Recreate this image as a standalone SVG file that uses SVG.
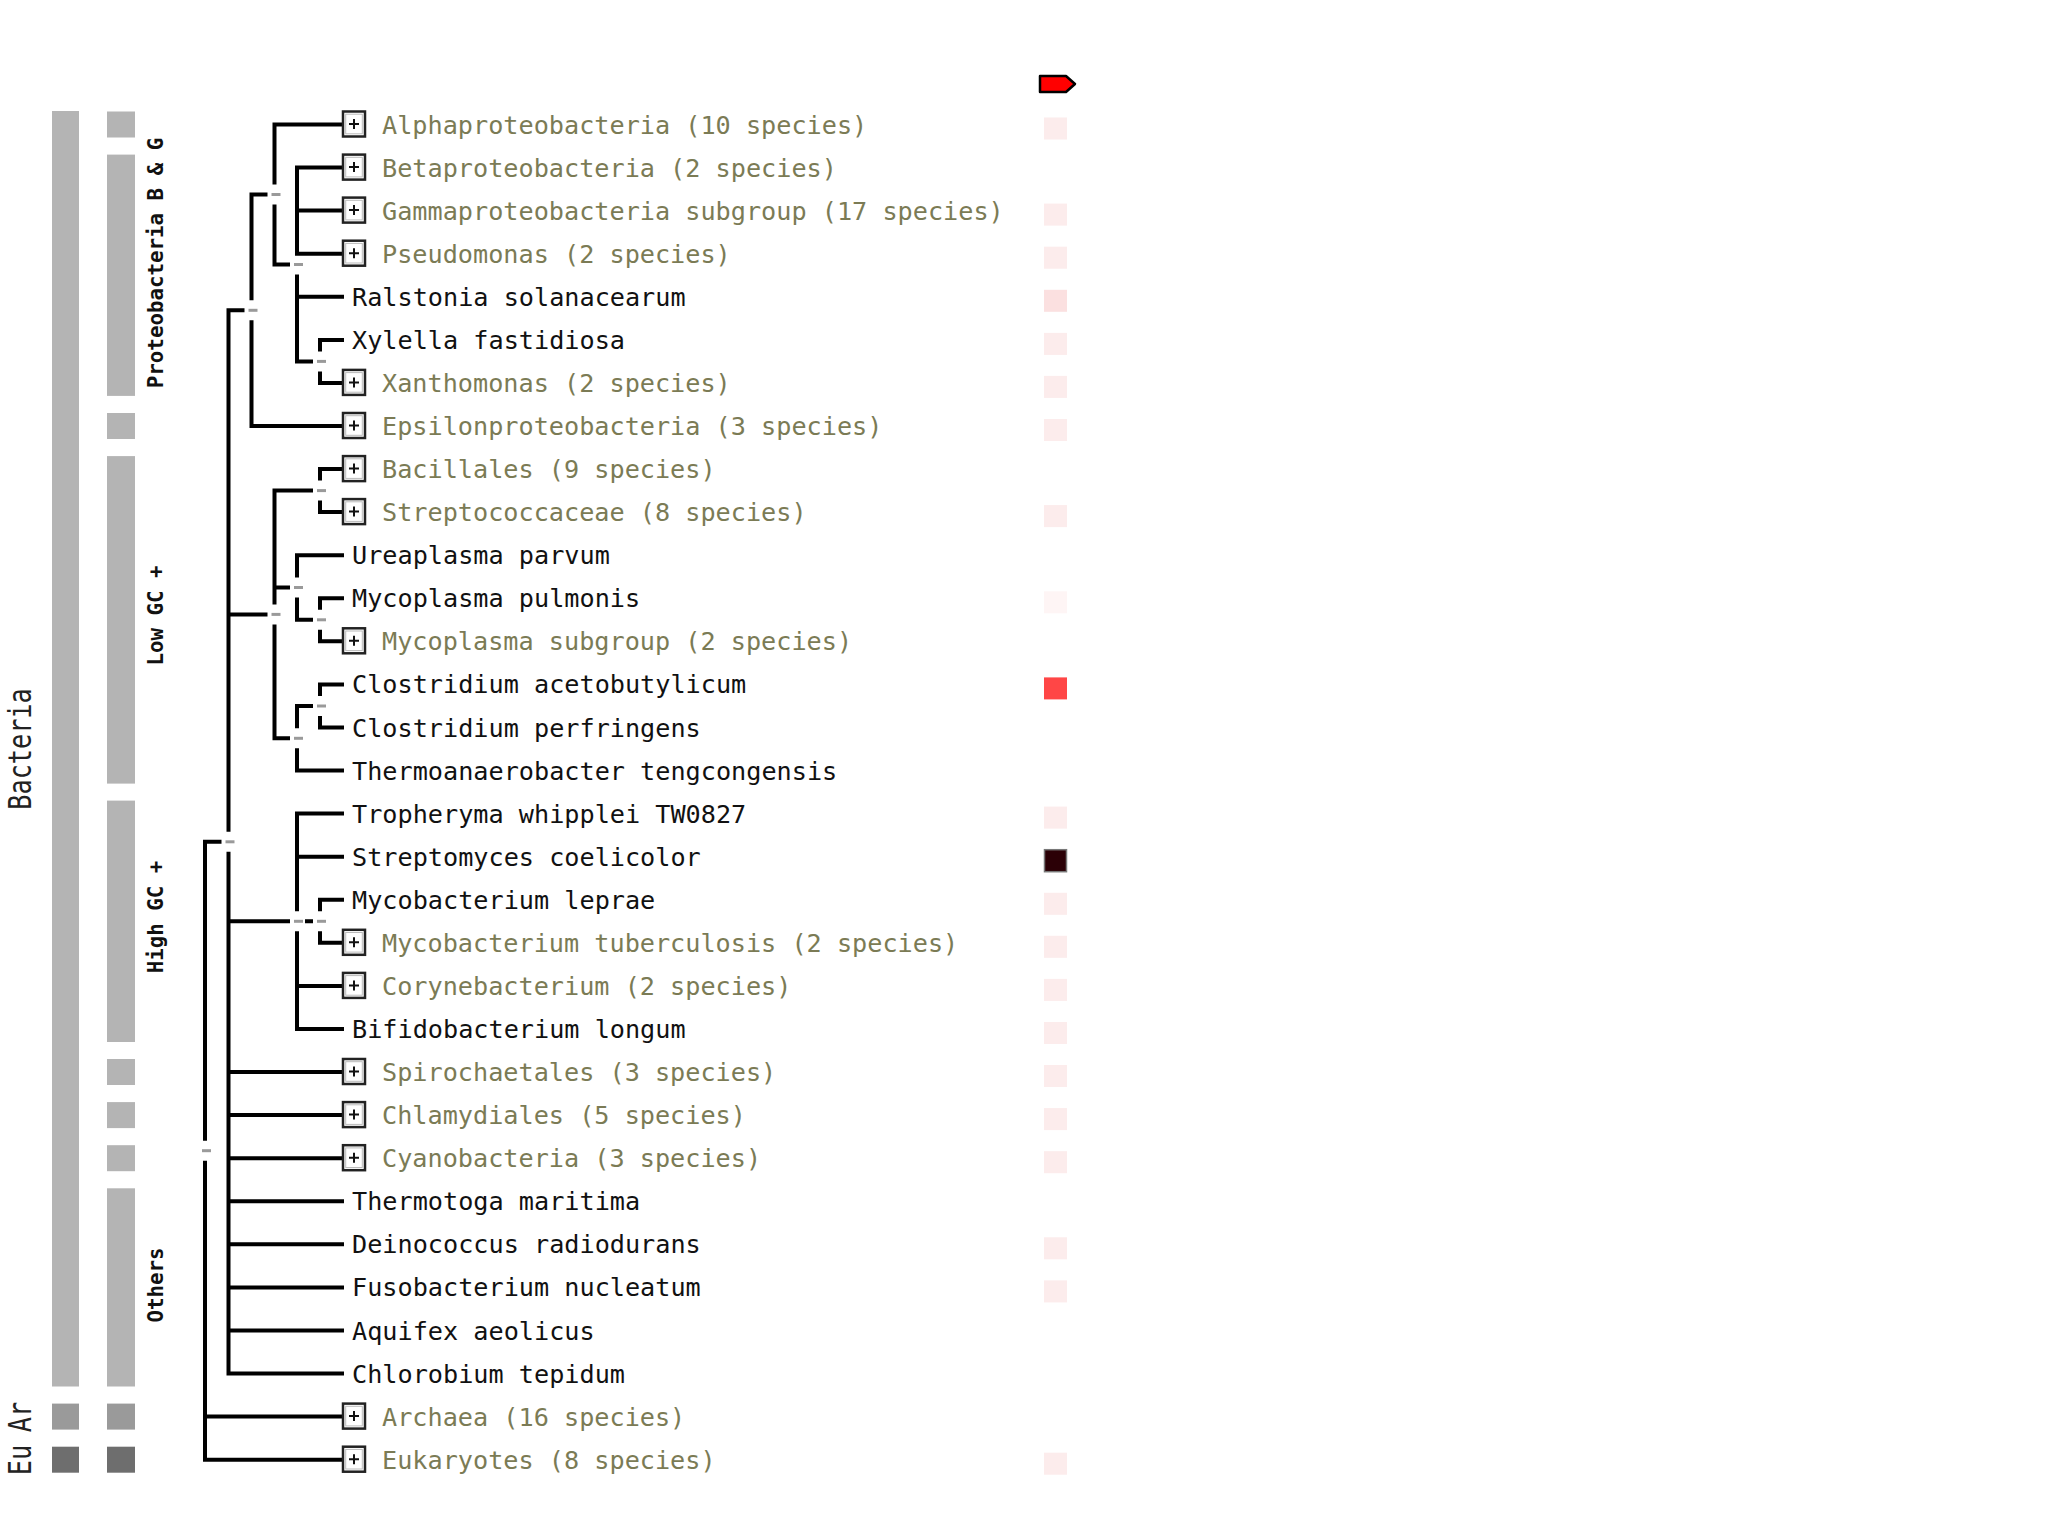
<svg xmlns="http://www.w3.org/2000/svg" width="2048" height="1536" viewBox="0 0 2048 1536">
<style>
.t{font-family:"DejaVu Sans Mono","Liberation Mono",monospace;font-size:25.2px}
.g{fill:#7b7b55}
.k{fill:#111}
.rl{font-family:"DejaVu Sans Mono","Liberation Mono",monospace;font-weight:bold;font-size:20.8px;text-anchor:middle;fill:#111}
.big{font-family:"DejaVu Sans Mono","Liberation Mono",monospace;font-size:25.2px;text-anchor:middle;fill:#222}
.bar{fill:#b4b4b4}
.ar{fill:#9a9a9a}
.eu{fill:#6e6e6e}
.conn{fill:none;stroke:#000;stroke-width:4;stroke-linecap:square}
.mk{fill:none;stroke:#9a9a9a;stroke-width:3}
.hs{fill:#fcecec}
</style>
<defs>
<g id="pbox">
<rect x="0.5" y="0.5" width="22" height="25" fill="#fff" stroke="#222" stroke-width="2.5"/>
<rect x="3.2" y="3.2" width="16.6" height="19.6" fill="none" stroke="#bbb" stroke-width="1"/>
<path d="M6.5 13H16.5M11.5 8V18" stroke="#111" stroke-width="2" fill="none"/>
</g>
</defs>
<rect width="2048" height="1536" fill="#fff"/>

<g id="taxonomy-bars">
<rect class="bar" x="52" y="111" width="27" height="1275.5"/>
<rect class="ar" x="52" y="1403.6" width="27" height="26"/>
<rect class="eu" x="52" y="1446.7" width="27" height="26"/>
<rect class="bar" x="107" y="111.5" width="28" height="26"/>
<rect class="bar" x="107" y="154.6" width="28" height="241.3"/>
<rect class="bar" x="107" y="413" width="28" height="26"/>
<rect class="bar" x="107" y="456.1" width="28" height="327.5"/>
<rect class="bar" x="107" y="800.6" width="28" height="241.4"/>
<rect class="bar" x="107" y="1059" width="28" height="26"/>
<rect class="bar" x="107" y="1102.1" width="28" height="26"/>
<rect class="bar" x="107" y="1145.2" width="28" height="26"/>
<rect class="bar" x="107" y="1188.3" width="28" height="198.2"/>
<rect class="ar" x="107" y="1403.6" width="28" height="26"/>
<rect class="eu" x="107" y="1446.7" width="28" height="26"/>
<text class="rl" transform="translate(163,263) rotate(-90)">Proteobacteria B &amp; G</text>
<text class="rl" transform="translate(163,615.5) rotate(-90)">Low GC +</text>
<text class="rl" transform="translate(163,917) rotate(-90)">High GC +</text>
<text class="rl" transform="translate(163,1285) rotate(-90)">Others</text>
<text class="big" transform="translate(31,749) rotate(-90) scale(1,1.25)">Bacteria</text>
<text class="big" transform="translate(31,1417) rotate(-90) scale(1,1.25)">Ar</text>
<text class="big" transform="translate(31,1460) rotate(-90) scale(1,1.25)">Eu</text>
</g>

<g id="connectors">
<path class="conn" d="M274.5 124.5V182.5M274.5 206.5V264.5M274.5 124.5H342M274.5 264.5H288"/>
<path class="conn" d="M297 167.6V252.5M297 276.5V361.4M297 167.6H342M297 210.6H342M297 253.7H342M297 296.8H342M297 361.4H311"/>
<path class="conn" d="M320 339.9V349.4M320 373.4V382.9M320 339.9H342M320 382.9H342"/>
<path class="conn" d="M251.5 194.5V298.3M251.5 322.3V426M251.5 194.5H265.5M251.5 426H342"/>
<path class="conn" d="M228.5 310.3V829.8M228.5 853.8V1373.5M228.5 310.3H242.5M228.5 614.4H265.5M228.5 921.3H288M228.5 1072H342M228.5 1115.1H342M228.5 1158.2H342M228.5 1201.3H342M228.5 1244.3H342M228.5 1287.4H342M228.5 1330.5H342M228.5 1373.5H342"/>
<path class="conn" d="M205 841.8V1138.7M205 1162.7V1459.7M205 841.8H219.5M205 1416.6H342M205 1459.7H342"/>
<path class="conn" d="M274.5 490.6V602.4M274.5 626.4V738.3M274.5 490.6H311M274.5 587.5H288M274.5 738.3H288"/>
<path class="conn" d="M320 469.1V478.6M320 502.6V512.1M320 469.1H342M320 512.1H342"/>
<path class="conn" d="M297 555.2V575.5M297 599.5V619.8M297 555.2H342M297 619.8H311"/>
<path class="conn" d="M320 598.3V607.8M320 631.8V641.3M320 598.3H342M320 641.3H342"/>
<path class="conn" d="M297 706V726.3M297 750.3V770.6M297 706H311M297 770.6H342"/>
<path class="conn" d="M320 684.4V694M320 718V727.5M320 684.4H342M320 727.5H342"/>
<path class="conn" d="M297 813.6V909.3M297 933.3V1029M297 813.6H342M297 856.7H342M297 985.9H342M297 1029H342M307 921.3H311"/>
<path class="conn" d="M320 899.8V909.3M320 933.3V942.8M320 899.8H342M320 942.8H342"/>
</g>

<g id="internal-nodes">
<g id="node-root"><path class="mk" d="M202 1150.7H211"/></g>
<g id="node-bacteria"><path class="mk" d="M225.5 841.8H234.5"/></g>
<g id="node-proteobacteria"><path class="mk" d="M248.5 310.3H257.5"/></g>
<g id="node-p"><path class="mk" d="M271.5 194.5H280.5"/></g>
<g id="node-q"><path class="mk" d="M294 264.5H303"/></g>
<g id="node-x"><path class="mk" d="M317 361.4H326"/></g>
<g id="node-lowgc"><path class="mk" d="M271.5 614.4H280.5"/></g>
<g id="node-bs"><path class="mk" d="M317 490.6H326"/></g>
<g id="node-um"><path class="mk" d="M294 587.5H303"/></g>
<g id="node-mm"><path class="mk" d="M317 619.8H326"/></g>
<g id="node-t"><path class="mk" d="M294 738.3H303"/></g>
<g id="node-cc"><path class="mk" d="M317 706H326"/></g>
<g id="node-highgc"><path class="mk" d="M294 921.3H303"/></g>
<g id="node-ml"><path class="mk" d="M317 921.3H326"/></g>
</g>

<g id="leaves">
<g id="leaf-alphaproteobacteria"><use href="#pbox" x="342.5" y="111"/><text class="t g" x="382" y="133.5">Alphaproteobacteria (10 species)</text></g>
<g id="leaf-betaproteobacteria"><use href="#pbox" x="342.5" y="154.1"/><text class="t g" x="382" y="176.6">Betaproteobacteria (2 species)</text></g>
<g id="leaf-gammaproteobacteria"><use href="#pbox" x="342.5" y="197.1"/><text class="t g" x="382" y="219.6">Gammaproteobacteria subgroup (17 species)</text></g>
<g id="leaf-pseudomonas"><use href="#pbox" x="342.5" y="240.2"/><text class="t g" x="382" y="262.7">Pseudomonas (2 species)</text></g>
<g id="leaf-ralstonia"><text class="t k" x="352" y="305.8">Ralstonia solanacearum</text></g>
<g id="leaf-xylella"><text class="t k" x="352" y="348.9">Xylella fastidiosa</text></g>
<g id="leaf-xanthomonas"><use href="#pbox" x="342.5" y="369.4"/><text class="t g" x="382" y="391.9">Xanthomonas (2 species)</text></g>
<g id="leaf-epsilonproteobacteria"><use href="#pbox" x="342.5" y="412.5"/><text class="t g" x="382" y="435">Epsilonproteobacteria (3 species)</text></g>
<g id="leaf-bacillales"><use href="#pbox" x="342.5" y="455.6"/><text class="t g" x="382" y="478.1">Bacillales (9 species)</text></g>
<g id="leaf-streptococcaceae"><use href="#pbox" x="342.5" y="498.6"/><text class="t g" x="382" y="521.1">Streptococcaceae (8 species)</text></g>
<g id="leaf-ureaplasma"><text class="t k" x="352" y="564.2">Ureaplasma parvum</text></g>
<g id="leaf-mycoplasma-pulmonis"><text class="t k" x="352" y="607.3">Mycoplasma pulmonis</text></g>
<g id="leaf-mycoplasma-subgroup"><use href="#pbox" x="342.5" y="627.8"/><text class="t g" x="382" y="650.3">Mycoplasma subgroup (2 species)</text></g>
<g id="leaf-clostridium-acetobutylicum"><text class="t k" x="352" y="693.4">Clostridium acetobutylicum</text></g>
<g id="leaf-clostridium-perfringens"><text class="t k" x="352" y="736.5">Clostridium perfringens</text></g>
<g id="leaf-thermoanaerobacter"><text class="t k" x="352" y="779.6">Thermoanaerobacter tengcongensis</text></g>
<g id="leaf-tropheryma"><text class="t k" x="352" y="822.6">Tropheryma whipplei TW0827</text></g>
<g id="leaf-streptomyces"><text class="t k" x="352" y="865.7">Streptomyces coelicolor</text></g>
<g id="leaf-mycobacterium-leprae"><text class="t k" x="352" y="908.8">Mycobacterium leprae</text></g>
<g id="leaf-mycobacterium-tuberculosis"><use href="#pbox" x="342.5" y="929.3"/><text class="t g" x="382" y="951.8">Mycobacterium tuberculosis (2 species)</text></g>
<g id="leaf-corynebacterium"><use href="#pbox" x="342.5" y="972.4"/><text class="t g" x="382" y="994.9">Corynebacterium (2 species)</text></g>
<g id="leaf-bifidobacterium"><text class="t k" x="352" y="1038">Bifidobacterium longum</text></g>
<g id="leaf-spirochaetales"><use href="#pbox" x="342.5" y="1058.5"/><text class="t g" x="382" y="1081">Spirochaetales (3 species)</text></g>
<g id="leaf-chlamydiales"><use href="#pbox" x="342.5" y="1101.6"/><text class="t g" x="382" y="1124.1">Chlamydiales (5 species)</text></g>
<g id="leaf-cyanobacteria"><use href="#pbox" x="342.5" y="1144.7"/><text class="t g" x="382" y="1167.2">Cyanobacteria (3 species)</text></g>
<g id="leaf-thermotoga"><text class="t k" x="352" y="1210.3">Thermotoga maritima</text></g>
<g id="leaf-deinococcus"><text class="t k" x="352" y="1253.3">Deinococcus radiodurans</text></g>
<g id="leaf-fusobacterium"><text class="t k" x="352" y="1296.4">Fusobacterium nucleatum</text></g>
<g id="leaf-aquifex"><text class="t k" x="352" y="1339.5">Aquifex aeolicus</text></g>
<g id="leaf-chlorobium"><text class="t k" x="352" y="1382.5">Chlorobium tepidum</text></g>
<g id="leaf-archaea"><use href="#pbox" x="342.5" y="1403.1"/><text class="t g" x="382" y="1425.6">Archaea (16 species)</text></g>
<g id="leaf-eukaryotes"><use href="#pbox" x="342.5" y="1446.2"/><text class="t g" x="382" y="1468.7">Eukaryotes (8 species)</text></g>
</g>

<g id="heatmap">
<polygon id="marker-tag" points="1040,76 1066,76 1075,84 1066,92 1040,92" fill="#ff0000" stroke="#000" stroke-width="2.5" stroke-linejoin="round"/>
<rect class="hs" x="1044" y="117.5" width="23" height="22"/>
<rect class="hs" x="1044" y="203.6" width="23" height="22"/>
<rect class="hs" x="1044" y="246.7" width="23" height="22"/>
<rect x="1044" y="289.8" width="23" height="22" fill="#fbe0e0"/>
<rect class="hs" x="1044" y="332.9" width="23" height="22"/>
<rect class="hs" x="1044" y="375.9" width="23" height="22"/>
<rect class="hs" x="1044" y="419" width="23" height="22"/>
<rect class="hs" x="1044" y="505.1" width="23" height="22"/>
<rect x="1044" y="591.3" width="23" height="22" fill="#fef5f5"/>
<rect x="1044" y="677.4" width="23" height="22" fill="#ff4646"/>
<rect class="hs" x="1044" y="806.6" width="23" height="22"/>
<rect x="1044.5" y="849.7" width="22" height="22" fill="#2b0006" stroke="#777" stroke-width="1.5"/>
<rect class="hs" x="1044" y="892.8" width="23" height="22"/>
<rect class="hs" x="1044" y="935.8" width="23" height="22"/>
<rect class="hs" x="1044" y="978.9" width="23" height="22"/>
<rect class="hs" x="1044" y="1022" width="23" height="22"/>
<rect class="hs" x="1044" y="1065" width="23" height="22"/>
<rect class="hs" x="1044" y="1108.1" width="23" height="22"/>
<rect class="hs" x="1044" y="1151.2" width="23" height="22"/>
<rect class="hs" x="1044" y="1237.3" width="23" height="22"/>
<rect class="hs" x="1044" y="1280.4" width="23" height="22"/>
<rect class="hs" x="1044" y="1452.7" width="23" height="22"/>
</g>
</svg>
